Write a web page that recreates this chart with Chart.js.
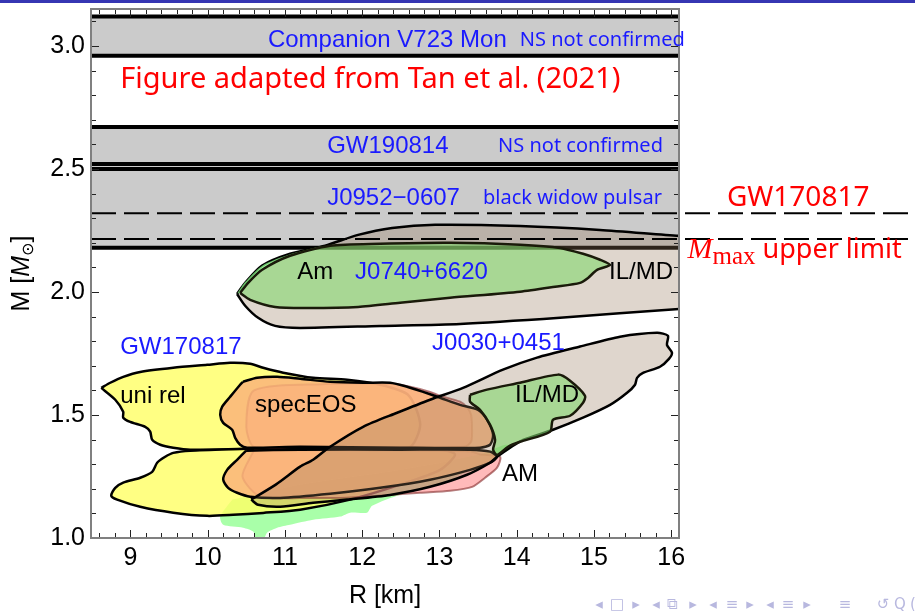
<!DOCTYPE html>
<html>
<head>
<meta charset="utf-8">
<script src="https://cdn.jsdelivr.net/npm/chart.js@4.4.0/dist/chart.umd.min.js"></script>
<style>
  html, body { margin: 0; padding: 0; background: #fff; }
  canvas { display: block; }
</style>
</head>
<body>
<canvas id="mr" width="915" height="611"></canvas>
<script>
// axis ticks
const rTicks = [9, 10, 11, 12, 13, 14, 15, 16];
const mTicks = [1.0, 1.5, 2.0, 2.5, 3.0];

// mass bands [low, high] in solar masses
const v723Band = [2.96, 3.12];
const gw190814Band = [2.50, 2.67];
const j0952Band = [2.18, 2.52];

// dashed limits
const gw170817Limit = 2.32;
const mmaxLimit = 2.215;

// contours, [R km, M solar]
const j0740Ilmd = [[10.38,1.992],[10.485,2.037],[10.705,2.107],[11.067,2.155],[11.52,2.188],[11.947,2.232],[12.387,2.26],[12.943,2.273],[14.043,2.268],[15.078,2.252],[16.1,2.228],[16.4,2.224],[16.4,1.935],[16.1,1.931],[14.561,1.895],[13.267,1.87],[12.232,1.862],[11.197,1.854],[10.873,1.862],[10.653,1.895],[10.485,1.944]];
const j0740AmLight = [[10.385,1.995],[10.485,2.04],[10.705,2.107],[11.067,2.153],[11.5,2.188],[11.067,2.147],[10.705,2.09],[10.524,2.037],[10.42,1.996]];
const j0740Am = [[10.42,1.996],[10.524,2.037],[10.705,2.09],[11.067,2.147],[11.585,2.188],[12.232,2.196],[13.137,2.2],[14.043,2.192],[14.561,2.179],[14.858,2.155],[15.078,2.131],[15.208,2.11],[15.04,2.09],[14.923,2.057],[14.819,2.037],[14.496,2.021],[14.043,2.001],[13.137,1.976],[12.49,1.956],[11.947,1.939],[11.3,1.935],[10.873,1.939],[10.55,1.968]];
const j0030Ilmd = [[10.563,1.156],[10.886,1.218],[11.197,1.29],[11.365,1.318],[11.585,1.371],[12.012,1.452],[12.452,1.509],[12.878,1.562],[13.305,1.61],[13.822,1.684],[14.262,1.733],[14.819,1.778],[15.337,1.818],[15.815,1.834],[15.957,1.822],[15.944,1.785],[16.009,1.753],[15.97,1.728],[15.854,1.696],[15.634,1.671],[15.557,1.651],[15.531,1.623],[15.428,1.59],[15.208,1.541],[14.858,1.489],[14.47,1.44],[14.082,1.399],[13.914,1.367],[13.745,1.33],[13.655,1.306],[13.357,1.257],[12.878,1.208],[12.361,1.175],[11.805,1.156],[11.365,1.143],[10.938,1.127],[10.653,1.135]];
const j0030IlmdInner = [[13.396,1.582],[13.615,1.603],[14.043,1.631],[14.535,1.664],[14.69,1.639],[14.884,1.578],[14.858,1.55],[14.69,1.497],[14.47,1.481],[14.431,1.432],[14.043,1.391],[13.888,1.371],[13.745,1.338],[13.694,1.359],[13.72,1.399],[13.655,1.46],[13.525,1.521],[13.396,1.554]];
const j0030Am = [[10.32,1.156],[10.162,1.087],[10.201,1.054],[10.459,1.042],[10.589,1.026],[10.627,0.99],[10.718,0.99],[10.77,1.022],[10.899,1.042],[11.067,1.054],[11.365,1.074],[11.714,1.087],[11.844,1.103],[12.063,1.103],[12.128,1.131],[12.49,1.176],[13.008,1.217],[13.396,1.277],[13.72,1.326],[13.953,1.371],[13.85,1.379],[13.525,1.339],[12.49,1.277],[11.197,1.217],[10.485,1.168]];
const uniRelHeavy = [[8.623,1.61],[8.739,1.631],[8.907,1.655],[9.127,1.675],[9.554,1.692],[9.993,1.704],[10.291,1.712],[10.55,1.708],[10.718,1.692],[10.977,1.672],[11.365,1.651],[11.805,1.643],[12.232,1.623],[12.6,1.58],[12.75,1.46],[12.6,1.367],[11.197,1.363],[9.774,1.359],[9.554,1.367],[9.386,1.379],[9.282,1.399],[9.256,1.432],[9.192,1.452],[8.997,1.472],[8.907,1.489],[8.907,1.513],[8.804,1.562]];
const uniRelLight = [[10.462,1.363],[9.774,1.355],[9.554,1.346],[9.45,1.33],[9.346,1.306],[9.282,1.269],[9.127,1.245],[8.907,1.225],[8.804,1.204],[8.752,1.172],[8.829,1.156],[9.127,1.127],[9.554,1.103],[9.993,1.09],[10.33,1.094],[10.718,1.102],[11.197,1.115],[11.844,1.156],[12.49,1.217],[13.008,1.277],[13.202,1.339],[13.008,1.359],[11.844,1.363]];
const specEosHeavy = [[10.457,1.635],[10.64,1.651],[10.899,1.655],[11.197,1.647],[11.585,1.635],[12.012,1.631],[12.361,1.631],[12.581,1.615],[12.788,1.594],[13.008,1.57],[13.267,1.541],[13.5,1.521],[13.616,1.481],[13.694,1.42],[13.655,1.379],[13.525,1.367],[12.49,1.367],[11.197,1.371],[10.511,1.367],[10.42,1.379],[10.356,1.407],[10.317,1.44],[10.201,1.468],[10.162,1.501],[10.188,1.534],[10.291,1.574],[10.42,1.623]];
const specEosLight = [[10.498,1.355],[10.381,1.318],[10.252,1.277],[10.201,1.237],[10.265,1.204],[10.381,1.184],[10.55,1.168],[10.938,1.163],[11.585,1.18],[12.232,1.204],[12.878,1.237],[13.396,1.277],[13.655,1.306],[13.745,1.33],[13.655,1.351],[13.396,1.359],[12.49,1.359],[11.197,1.359]];
const ppHeavy = [[11.585,1.627],[12.361,1.627],[12.62,1.615],[12.878,1.594],[13.008,1.578],[13.267,1.554],[13.36,1.53],[13.41,1.5],[13.422,1.431],[13.409,1.391],[13.331,1.371],[12.49,1.369],[11.2,1.372],[10.6,1.37],[10.5,1.45],[10.6,1.6]];
const ppLight = [[10.6,1.357],[11.197,1.357],[13.396,1.353],[13.525,1.34],[13.784,1.33],[13.745,1.286],[13.59,1.245],[13.422,1.208],[13.137,1.192],[12.749,1.184],[12.361,1.175],[11.714,1.163],[11.197,1.163],[10.679,1.168],[10.45,1.25]];

const BLUE = '#1a1aff';
const RED = '#ff0000';
const SANS = '"Liberation Sans", Arial, sans-serif';
const CMSANS = '"Noto Sans", sans-serif';

// text placed in data coordinates
const labels = [
  { text: 'Companion V723 Mon', r: 10.78, m: 3.024, font: '24px ' + SANS, color: BLUE },
  { text: 'NS not confirmed', r: 14.04, m: 3.024, font: '20px ' + CMSANS, color: BLUE },
  { text: 'Figure adapted from Tan et al. (2021)', r: 8.868, m: 2.861, font: '29px ' + CMSANS, color: RED },
  { text: 'GW190814', r: 11.546, m: 2.593, font: '24px ' + SANS, color: BLUE },
  { text: 'NS not confirmed', r: 13.758, m: 2.593, font: '20px ' + CMSANS, color: BLUE },
  { text: 'J0952\u22120607', r: 11.546, m: 2.382, font: '24px ' + SANS, color: BLUE },
  { text: 'black widow pulsar', r: 13.564, m: 2.382, font: '20px ' + CMSANS, color: BLUE },
  { text: 'GW170817', r: 16.72, m: 2.382, font: '28px ' + CMSANS, color: RED },
  { text: 'J0740+6620', r: 11.908, m: 2.078, font: '24px ' + SANS, color: BLUE },
  { text: 'Am', r: 11.158, m: 2.078, font: '24px ' + SANS, color: '#000' },
  { text: 'IL/MD', r: 15.195, m: 2.078, font: '24px ' + SANS, color: '#000' },
  { text: 'GW170817', r: 8.868, m: 1.773, font: '24px ' + SANS, color: BLUE },
  { text: 'J0030+0451', r: 12.904, m: 1.793, font: '24px ' + SANS, color: BLUE },
  { text: 'uni rel', r: 8.868, m: 1.574, font: '24px ' + SANS, color: '#000' },
  { text: 'specEOS', r: 10.614, m: 1.537, font: '24px ' + SANS, color: '#000' },
  { text: 'IL/MD', r: 13.978, m: 1.578, font: '24px ' + SANS, color: '#000' },
  { text: 'AM', r: 13.81, m: 1.257, font: '24px ' + SANS, color: '#000' }
];

// beamer navigation glyphs along the bottom edge
const navGlyphs = ['\u25C2','\u25A1','\u25B8','\u25C2','\u29C9','\u25B8','\u25C2','\u2261','\u25B8','\u25C2','\u2261','\u25B8','\u2261','\u21BA','Q','('];
const navX = [599, 617, 636, 656, 672, 693, 713, 732, 750, 770, 788, 807, 845, 883, 900, 913];

const toPts = arr => arr.map(p => ({ x: p[0], y: p[1] }));
const closed = arr => toPts(arr.concat([arr[0]]));
const rect = band => [[8.3, band[0]], [16.4, band[0]], [16.4, band[1]], [8.3, band[1]]];
const hline = (v, x1, x2) => [{ x: x1, y: v }, { x: x2, y: v }];

const GRAY = '#cbcbcb';
const BEIGE = 'rgba(150,120,90,0.3)';
const GREEN = 'rgba(130,215,110,0.6)';
const LIGHTGREEN = 'rgba(140,255,140,0.75)';
const YELLOW = 'rgba(255,255,100,0.8)';
const ORANGE = 'rgba(250,180,122,0.85)';
const PINK = 'rgba(255,140,140,0.6)';
const DARKRED = 'rgba(130,40,40,0.6)';

// bottom -> top: [points, fill, edge colour, edge width]
const layers = [
  [j0030Am, LIGHTGREEN, null, 0],
  [uniRelHeavy, YELLOW, '#000', 2.5], [uniRelLight, YELLOW, '#000', 2.5],
  [ppHeavy, PINK, DARKRED, 2], [ppLight, PINK, DARKRED, 2],
  [specEosHeavy, ORANGE, '#000', 2.5], [specEosLight, ORANGE, '#000', 2.5],
  [j0030Ilmd, BEIGE, '#000', 2.5], [j0030IlmdInner, GREEN, '#1a1a0a', 2.5],
  [j0740Ilmd, BEIGE, '#000', 2.5], [j0740AmLight, LIGHTGREEN, null, 0], [j0740Am, GREEN, '#1a1a0a', 2.5]
];
const bandEdges = [v723Band[1], v723Band[0], gw190814Band[1], j0952Band[1], gw190814Band[0], j0952Band[0]];

const datasets = [];
const base = { type: 'line', pointRadius: 0, pointHoverRadius: 0, clip: 0 };
[v723Band, gw190814Band, j0952Band].forEach(b => datasets.push(Object.assign({}, base, {
  data: closed(rect(b)), fill: 'shape', backgroundColor: GRAY, borderColor: 'rgba(0,0,0,0)', borderWidth: 0.01
})));
bandEdges.forEach(v => datasets.push(Object.assign({}, base, {
  data: hline(v, 8.3, 16.4), fill: false, borderColor: '#000', borderWidth: 4
})));
layers.forEach(([pts, color, edge, w]) => {
  datasets.push(Object.assign({}, base, {
    data: closed(pts), fill: 'shape', backgroundColor: color,
    borderColor: 'rgba(0,0,0,0)', borderWidth: 0.01, tension: 0.25
  }));
  if (edge) {
    datasets.push(Object.assign({}, base, {
      data: closed(pts), fill: false, borderColor: edge, borderWidth: w, tension: 0.25
    }));
  }
});
[gw170817Limit, mmaxLimit].forEach(v => {
  datasets.push(Object.assign({}, base, {
    data: hline(v, 8.49, 19.6), fill: false, borderColor: '#000', borderWidth: 2,
    borderDash: [25, 8], clip: false
  }));
});
datasets.forEach((d, i) => { d.order = -i; });

function drawRuns(ctx, x, y, runs) {
  runs.forEach(run => {
    ctx.font = run.font;
    ctx.fillStyle = run.color;
    ctx.fillText(run.text, x, y + (run.dy || 0));
    x += ctx.measureText(run.text).width;
  });
}

const decor = {
  id: 'decor',
  beforeDraw(chart) {
    const ctx = chart.ctx;
    ctx.save();
    ctx.fillStyle = '#3636b3';
    ctx.fillRect(0, 0, chart.width, 3);
    ctx.restore();
  },
  afterDatasetsDraw(chart) {
    const { ctx, chartArea: a, scales: { x, y } } = chart;
    ctx.save();
    // inward ticks on all four sides
    ctx.strokeStyle = '#222';
    ctx.lineWidth = 1;
    ctx.beginPath();
    for (let k = 43; k <= 80; k++) {
      const px = Math.round(x.getPixelForValue(k / 5)) + 0.5;
      const len = k % 5 === 0 ? 8 : 5;
      ctx.moveTo(px, a.bottom); ctx.lineTo(px, a.bottom - len);
      ctx.moveTo(px, a.top); ctx.lineTo(px, a.top + len);
    }
    for (let k = 10; k <= 31; k++) {
      const py = Math.round(y.getPixelForValue(k / 10)) + 0.5;
      const len = k % 5 === 0 ? 8 : 5;
      ctx.moveTo(a.left, py); ctx.lineTo(a.left + len, py);
      ctx.moveTo(a.right, py); ctx.lineTo(a.right - len, py);
    }
    ctx.stroke();
    // frame
    ctx.strokeStyle = '#808080';
    ctx.lineWidth = 2;
    ctx.strokeRect(a.left, a.top, a.right - a.left, a.bottom - a.top);
    ctx.restore();
  },
  afterDraw(chart) {
    const { ctx, chartArea: a, scales: { x, y } } = chart;
    ctx.save();
    ctx.textBaseline = 'middle';
    ctx.textAlign = 'left';
    labels.forEach(l => {
      ctx.font = l.font;
      ctx.fillStyle = l.color;
      ctx.fillText(l.text, x.getPixelForValue(l.r), y.getPixelForValue(l.m));
    });
    // M_max upper limit
    drawRuns(ctx, x.getPixelForValue(16.21), y.getPixelForValue(2.171), [
      { text: 'M', font: 'italic 30px "Liberation Serif"', color: RED },
      { text: 'max', font: '25px "Liberation Serif"', color: RED, dy: 8 },
      { text: ' upper limit', font: '27px ' + CMSANS, color: RED }
    ]);
    // y axis title
    const runs = [
      { text: 'M [', font: '25px ' + SANS, color: '#000' },
      { text: 'M', font: 'italic 25px ' + SANS, color: '#000' },
      { text: '\u2299', font: '16px "DejaVu Sans"', color: '#000', dy: 7 },
      { text: ']', font: '25px ' + SANS, color: '#000' }
    ];
    let w = 0;
    runs.forEach(r => { ctx.font = r.font; w += ctx.measureText(r.text).width; });
    ctx.save();
    ctx.translate(22, (a.top + a.bottom) / 2);
    ctx.rotate(-Math.PI / 2);
    drawRuns(ctx, -w / 2, 0, runs);
    ctx.restore();
    // navigation symbols
    ctx.textAlign = 'center';
    ctx.font = '15px "DejaVu Sans"';
    ctx.fillStyle = '#b8b8df';
    navGlyphs.forEach((g, i) => ctx.fillText(g, navX[i], 605));
    ctx.restore();
  }
};

new Chart(document.getElementById('mr'), {
  type: 'line',
  data: { datasets },
  options: {
    responsive: false,
    animation: false,
    events: [],
    layout: { padding: { left: 0, right: 236, top: 9, bottom: 0 } },
    plugins: { legend: { display: false }, tooltip: { enabled: false }, filler: { propagate: false } },
    scales: {
      x: {
        type: 'linear', min: 8.49, max: 16.1,
        grid: { display: false, drawTicks: false }, border: { display: false },
        afterBuildTicks: s => { s.ticks = rTicks.map(v => ({ value: v })); },
        afterFit: s => { s.height = 73; s.paddingLeft = 0; s.paddingRight = 0; },
        ticks: { font: { family: SANS, size: 25 }, color: '#000', padding: 5, maxRotation: 0, autoSkip: false, callback: v => String(v) },
        title: { display: true, text: 'R [km]', font: { family: SANS, size: 25 }, color: '#000', padding: { top: 0, bottom: 0 } }
      },
      y: {
        type: 'linear', min: 1.0, max: 3.15,
        grid: { display: false, drawTicks: false }, border: { display: false },
        afterBuildTicks: s => { s.ticks = mTicks.map(v => ({ value: v })); },
        afterFit: s => { s.width = 91; s.paddingTop = 0; s.paddingBottom = 0; },
        ticks: { font: { family: SANS, size: 25 }, color: '#000', padding: 6, callback: v => v.toFixed(1) }
      }
    }
  },
  plugins: [decor]
});
</script>
</body>
</html>
